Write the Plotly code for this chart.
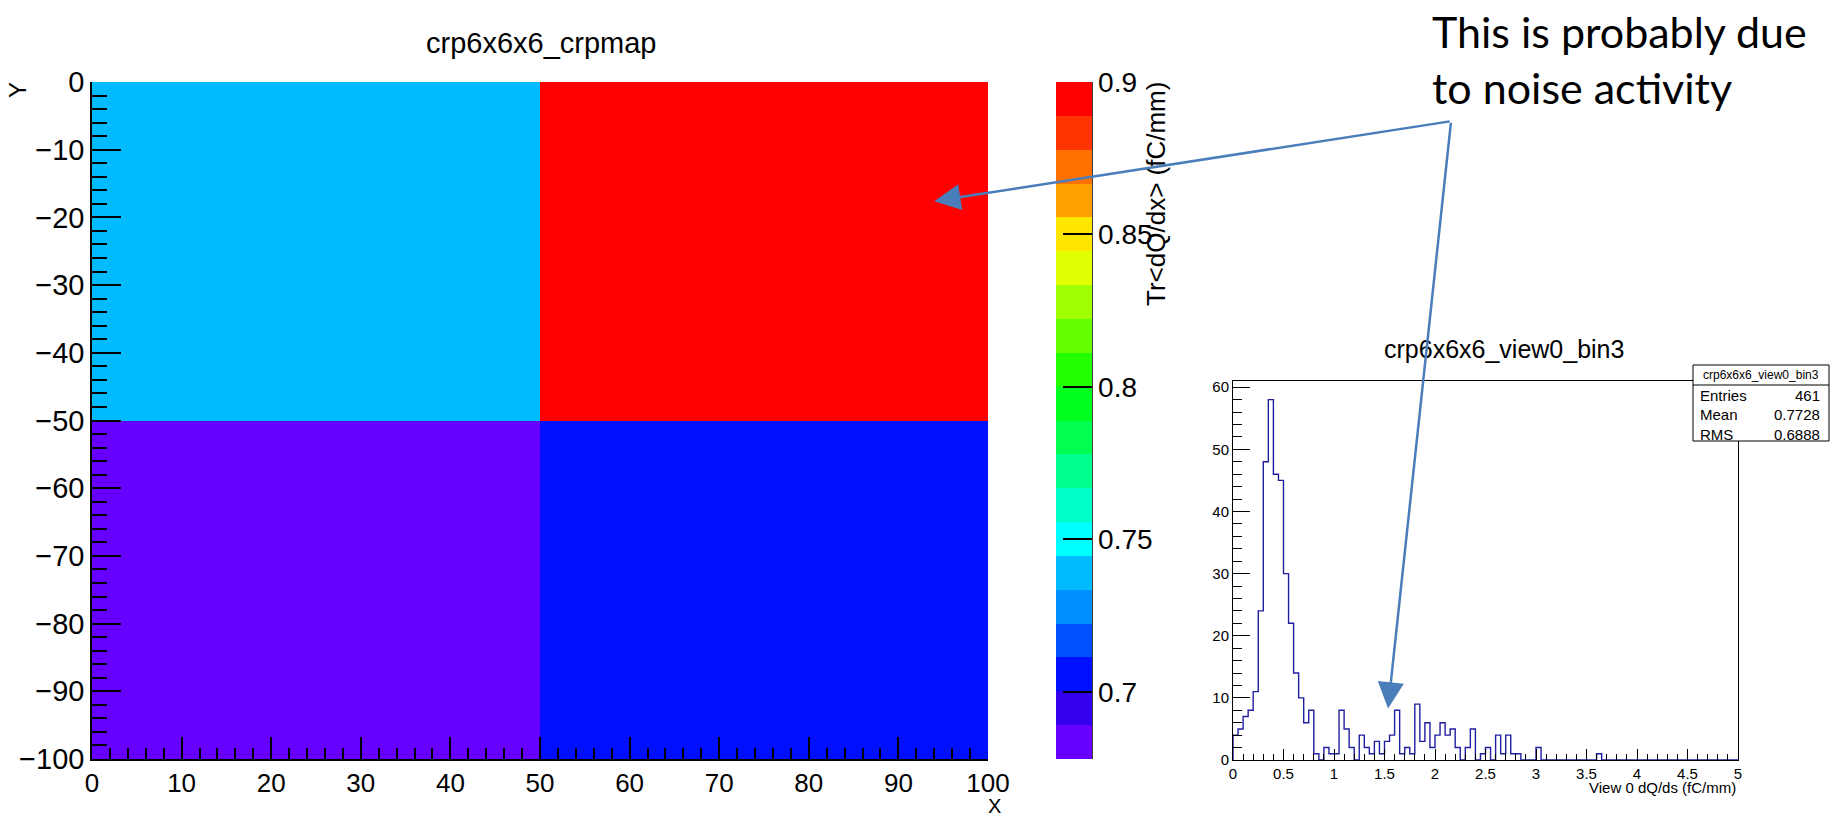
import numpy as np
import plotly.graph_objects as go

W, H = 1837, 819

# ---- CRP map (2x2 cells) ----
map_x_edges = [0, 50, 100]
map_y_edges = [-100, -50, 0]
# rows: y from -100 upward; columns: x from 0 to 100
crp_values = [[0.678, 0.705],
              [0.739, 0.900]]
map_title = "crp6x6x6_crpmap"
map_zlabel = "Tr<dQ/dx> (fC/mm)"

# 20-step palette, low -> high
palette = ["#6600FF", "#3300F0", "#0010FF", "#0050FF", "#0090FF",
           "#00BBFF", "#00FFFF", "#00FFC8", "#00FF8C", "#00FF50",
           "#00FF1E", "#22FF00", "#66FF00", "#A0FF00", "#E0FF00",
           "#FFE600", "#FFA000", "#FF7000", "#FF3300", "#FF0000"]

# ---- dQ/ds histogram, 100 bins on [0, 5] ----
hist_xmin, hist_xmax, hist_nbins = 0.0, 5.0, 100
hist_counts = [4, 5, 7, 8, 11, 24, 48, 58, 46, 45, 30, 22, 14, 10, 6, 8, 1, 0, 2, 1,
               1, 8, 5, 2, 0, 4, 2, 1, 3, 1, 3, 4, 8, 1, 2, 1, 9, 3, 6, 2,
               4, 6, 4, 5, 2, 0, 2, 5, 0, 1, 2, 0, 4, 1, 4, 1, 1, 0, 0, 0,
               2, 0, 0, 0, 0, 0, 0, 0, 0, 0, 0, 0, 1, 0, 0, 0, 0, 0, 0, 0,
               0, 0, 0, 0, 0, 0, 0, 0, 0, 0, 0, 0, 0, 0, 0, 0, 0, 0, 0, 0]
hist_title = "crp6x6x6_view0_bin3"
hist_xlabel = "View 0 dQ/ds (fC/mm)"
stats_labels = ["Entries", "Mean", "RMS"]
stats_values = ["461", "0.7728", "0.6888"]

note_text = "This is probably due<br>to noise activity"


def px_x(p):
    return p / W


def px_y(p):
    return 1 - p / H


FONT = "Liberation Sans, Arial, Helvetica, sans-serif"

zmin, zmax = min(min(r) for r in crp_values), max(max(r) for r in crp_values)
n = len(palette)
colorscale = []
for i, c in enumerate(palette):
    colorscale.append([i / n, c])
    colorscale.append([(i + 1) / n, c])

fig = go.Figure()

fig.add_trace(go.Heatmap(
    x=map_x_edges, y=map_y_edges, z=crp_values,
    zmin=zmin, zmax=zmax, colorscale=colorscale,
    xaxis="x", yaxis="y", hoverinfo="skip",
    colorbar=dict(
        x=px_x(1056), xanchor="left", xpad=0, ypad=0,
        y=px_y(82), yanchor="top",
        len=677, lenmode="pixels", thickness=36, thicknessmode="pixels",
        outlinewidth=0,
        tick0=0.7, dtick=0.05, ticks="inside", ticklen=29, tickwidth=1.5,
        tickcolor="black",
        tickfont=dict(family=FONT, size=28, color="black"),
    ),
))

edges = np.linspace(hist_xmin, hist_xmax, hist_nbins + 1)
step_x = [hist_xmin] + list(edges)
step_y = [0] + list(hist_counts) + [0]
fig.add_trace(go.Scatter(
    x=step_x, y=step_y, mode="lines", line=dict(shape="hv", color="#1f1fa0", width=1.4),
    xaxis="x2", yaxis="y2", hoverinfo="skip", showlegend=False,
))

axis_common = dict(showgrid=False, zeroline=False, showline=True, linecolor="black",
                   ticks="inside", tickcolor="black")

fig.update_layout(
    width=W, height=H, margin=dict(l=0, r=0, t=0, b=0, autoexpand=False),
    paper_bgcolor="white", plot_bgcolor="white", showlegend=False,
    xaxis=dict(domain=[px_x(92), px_x(988)], range=[0, 100], anchor="y",
               tick0=0, dtick=10, ticklen=22, tickwidth=1.5, linewidth=1.5,
               minor=dict(dtick=2, ticks="inside", ticklen=11, tickcolor="black", tickwidth=1.5),
               tickfont=dict(family=FONT, size=26, color="black"), **axis_common),
    yaxis=dict(domain=[px_y(759), px_y(82)], range=[-100, 0], anchor="x",
               tick0=0, dtick=10, ticklen=29, tickwidth=1.5, linewidth=1.5,
               minor=dict(dtick=2, ticks="inside", ticklen=15, tickcolor="black", tickwidth=1.5),
               tickfont=dict(family=FONT, size=29, color="black"), **axis_common),
    xaxis2=dict(domain=[px_x(1233), px_x(1738)], range=[hist_xmin, hist_xmax], anchor="y2",
                tick0=0, dtick=0.5, ticklen=11, tickwidth=1, linewidth=1, mirror=True,
                minor=dict(dtick=0.1, ticks="inside", ticklen=6, tickcolor="black", tickwidth=1),
                tickfont=dict(family=FONT, size=15, color="black"), **axis_common),
    yaxis2=dict(domain=[px_y(760), px_y(381)], range=[0, 61], anchor="x2",
                tick0=0, dtick=10, ticklen=17, tickwidth=1, linewidth=1, mirror=True,
                minor=dict(dtick=2, ticks="inside", ticklen=9, tickcolor="black", tickwidth=1),
                tickfont=dict(family=FONT, size=15, color="black"), **axis_common),
)

shapes = [
    # colour bar right edge
    dict(type="line", xref="paper", yref="paper", x0=px_x(1092), x1=px_x(1092),
         y0=px_y(82), y1=px_y(759), line=dict(color="black", width=1.5)),
    # statistics box
    dict(type="rect", xref="paper", yref="paper", x0=px_x(1693), x1=px_x(1829),
         y0=px_y(441), y1=px_y(365), line=dict(color="black", width=1),
         fillcolor="white", layer="above"),
    dict(type="line", xref="paper", yref="paper", x0=px_x(1693), x1=px_x(1829),
         y0=px_y(385), y1=px_y(385), line=dict(color="black", width=1), layer="above"),
]
fig.update_layout(shapes=shapes)

ann = []
# titles and axis labels
ann.append(dict(text=map_title, x=px_x(541), y=px_y(43), xanchor="center", yanchor="middle",
                font=dict(family=FONT, size=29, color="black")))
ann.append(dict(text="Y", x=px_x(18), y=px_y(80), xanchor="center", yanchor="top", textangle=-90,
                font=dict(family=FONT, size=24, color="black")))
ann.append(dict(text="X", x=px_x(994), y=px_y(819), xanchor="center", yanchor="bottom",
                font=dict(family=FONT, size=20, color="black")))
ann.append(dict(text=map_zlabel, x=px_x(1156), y=px_y(80), xanchor="center", yanchor="top",
                textangle=-90, font=dict(family=FONT, size=26, color="black")))
ann.append(dict(text=hist_title, x=px_x(1504), y=px_y(349), xanchor="center", yanchor="middle",
                font=dict(family=FONT, size=25, color="black")))
ann.append(dict(text=hist_xlabel, x=px_x(1738), y=px_y(787), xanchor="right", yanchor="middle",
                font=dict(family=FONT, size=15, color="black")))
# statistics box text
ann.append(dict(text=hist_title, x=px_x(1761), y=px_y(375), xanchor="center", yanchor="middle",
                font=dict(family=FONT, size=12, color="black")))
for i, (lab, val) in enumerate(zip(stats_labels, stats_values)):
    yy = px_y(395 + 19.5 * i)
    ann.append(dict(text=lab, x=px_x(1698), y=yy, xanchor="left", yanchor="middle",
                    font=dict(family=FONT, size=15, color="black")))
    ann.append(dict(text=val, x=px_x(1822), y=yy, xanchor="right", yanchor="middle",
                    font=dict(family=FONT, size=15, color="black")))
# note with arrows
ann.append(dict(text=note_text, x=px_x(1430), y=px_y(4), xanchor="left", yanchor="top", align="left",
                font=dict(family="Lato, Open Sans, sans-serif", size=43, color="black")))
for r in ann:
    r.setdefault("xref", "paper")
    r.setdefault("yref", "paper")
    r.setdefault("showarrow", False)

arrow_style = dict(showarrow=True, arrowhead=2, arrowsize=2.1, arrowwidth=2.5,
                   arrowcolor="#4A7EBB", text="", axref="pixel", ayref="pixel")
ann.append(dict(x=94.0, y=-17.6, xref="x", yref="y", ax=517, ay=-80, **arrow_style))
ann.append(dict(x=1.535, y=8.3, xref="x2", yref="y2", ax=63, ay=-587, **arrow_style))

fig.update_layout(annotations=ann)

fig.write_html("out.html")
